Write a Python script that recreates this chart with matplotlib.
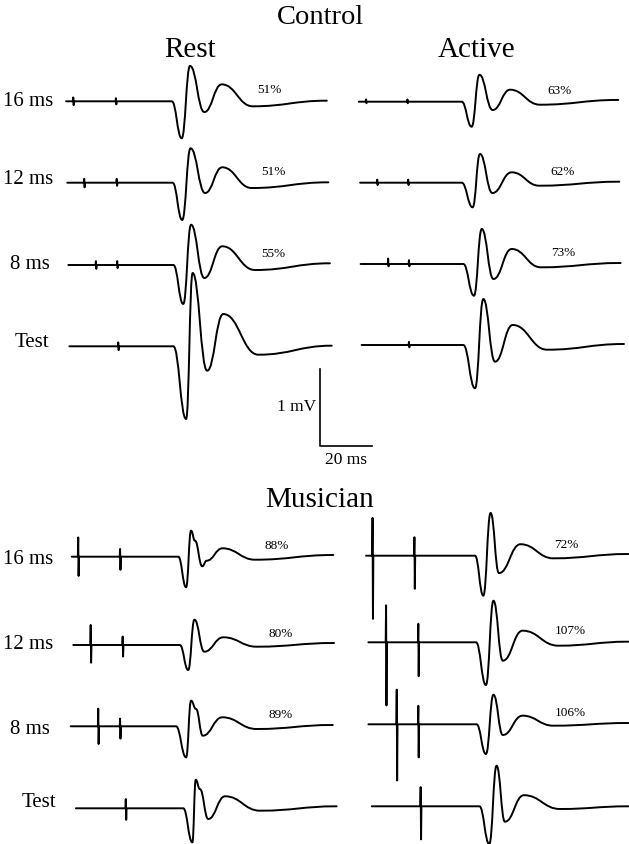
import matplotlib
matplotlib.use('Agg')
from matplotlib import pyplot as plt
from matplotlib.path import Path
from matplotlib.patches import PathPatch

plt.rcParams['font.family'] = ['Liberation Serif', 'DejaVu Serif']

# scale of the recordings: 20 ms = 52 px, 1 mV = 77 px
PX_MS = 2.6
PX_MV = 77.0
W, H = 629, 845

rows = ['16 ms', '12 ms', '8 ms', 'Test']

# key points of each trace: time (ms) and amplitude (mV)
# stimulus artefacts: [time, up, down]
ctl_rest_t = [[0.0, 40.7, 44.5, 47.7, 53.2, 59.9, 71.8, 100.3],
              [0.5, 41.0, 44.7, 47.9, 53.5, 60.1, 71.4, 100.9],
              [0.9, 41.3, 45.1, 48.1, 53.2, 60.1, 72.7, 101.5],
              [1.3, 41.3, 46.2, 48.7, 54.3, 60.5, 74.0, 102.2]]
ctl_rest_v = [[0, 0, -0.48, 0.46, -0.14, 0.22, -0.065, 0.008],
              [0, 0, -0.484, 0.447, -0.134, 0.20, -0.069, 0.005],
              [0, 0, -0.506, 0.523, -0.169, 0.243, -0.065, 0.022],
              [0, 0, -0.944, 0.952, -0.317, 0.419, -0.109, 0.008]]
ctl_rest_art = [[[2.8, 0.05, 0.05], [19.2, 0.04, 0.04]],
                [[7.0, 0.05, 0.06], [19.5, 0.05, 0.04]],
                [[11.5, 0.05, 0.05], [19.7, 0.05, 0.04]],
                [[20.1, 0.05, 0.05]]]
ctl_rest_pct = ['51%', '51%', '55%', '']

ctl_act_t = [[0.3, 39.9, 43.7, 46.7, 51.8, 58.5, 70.0, 100.1],
             [0.8, 39.9, 44.1, 46.9, 51.7, 59.1, 69.7, 100.5],
             [1.0, 40.5, 44.6, 47.6, 52.1, 59.1, 70.3, 101.0],
             [1.4, 40.5, 45.0, 48.2, 52.7, 59.5, 72.7, 102.3]]
ctl_act_v = [[0, 0, -0.325, 0.35, -0.108, 0.156, -0.039, 0.023],
             [0, 0, -0.32, 0.373, -0.134, 0.135, -0.039, 0.013],
             [0, 0, -0.412, 0.455, -0.195, 0.195, -0.043, 0.013],
             [0, 0, -0.562, 0.597, -0.217, 0.26, -0.061, 0.013]]
ctl_act_art = [[[3.1, 0.03, 0.02], [19.0, 0.03, 0.02]],
               [[7.4, 0.04, 0.03], [19.3, 0.04, 0.03]],
               [[11.6, 0.07, 0.03], [19.6, 0.05, 0.03]],
               [[19.6, 0.04, 0.03]]]
ctl_act_pct = ['63%', '62%', '73%', '']

mus_rest_t = [[2.2, 43.2, 46.2, 48.1, 49.6, 52.4, 54.1, 60.2, 72.7, 102.8],
              [2.8, 43.8, 47.0, 49.4, 53.2, 60.5, 73.3, 103.1],
              [1.8, 42.3, 46.2, 48.1, 50.0, 52.6, 60.1, 73.3, 102.6],
              [3.8, 45.1, 48.6, 49.9, 51.5, 54.7, 61.2, 74.6, 104.1]]
mus_rest_v = [[0, 0, -0.397, 0.338, 0.208, -0.125, -0.052, 0.109, -0.039, 0.022],
              [0, 0, -0.325, 0.329, -0.087, 0.10, -0.022, 0.026],
              [0, 0, -0.403, 0.333, 0.225, -0.122, 0.117, -0.035, 0.017],
              [0, 0, -0.442, 0.371, 0.25, -0.139, 0.156, -0.031, 0.026]]
mus_rest_art = [[[4.7, 0.25, 0.25], [20.8, 0.10, 0.17]],
                [[9.5, 0.26, 0.23], [21.8, 0.11, 0.15]],
                [[12.4, 0.23, 0.23], [20.8, 0.10, 0.16]],
                [[23.0, 0.12, 0.15]]]
mus_rest_pct = ['88%', '80%', '89%', '']

mus_act_t = [[3.1, 45.0, 48.2, 51.0, 54.2, 62.5, 75.1, 104.0],
             [4.0, 45.4, 49.2, 52.1, 55.7, 63.3, 77.0, 104.0],
             [4.0, 45.6, 49.2, 52.1, 55.7, 63.3, 75.1, 104.0],
             [5.3, 46.7, 50.5, 53.3, 56.5, 63.8, 77.7, 104.0]]
mus_act_v = [[0, 0, -0.519, 0.555, -0.226, 0.149, -0.034, 0.022],
             [0, 0, -0.555, 0.54, -0.239, 0.151, -0.044, 0.008],
             [0, 0, -0.386, 0.384, -0.139, 0.112, -0.018, 0.017],
             [0, 0, -0.49, 0.527, -0.20, 0.144, -0.035, 0.0]]
mus_act_art = [[[5.6, 0.49, 0.82], [21.7, 0.24, 0.43]],
               [[10.8, 0.48, 0.82], [23.2, 0.24, 0.44]],
               [[14.9, 0.45, 0.73], [23.2, 0.24, 0.43]],
               [[24.1, 0.25, 0.43]]]
mus_act_pct = ['72%', '107%', '106%', '']


def X(px):
    return px / PX_MS


def Y(py):
    return -py / PX_MV


def trace_points(t, v, art):
    # baseline start, artefacts, then the MEP key points
    pts = [(t[0], v[0])]
    for ta, up, down in art:
        pts += [(ta - 0.15, 0), (ta, up), (ta + 0.15, -down), (ta + 0.3, 0)]
    pts += list(zip(t[1:], v[1:]))
    return pts


def draw_trace(ax, x0, y0, t, v, art, k=0.45):
    pts = [(x0 + a, y0 + b) for a, b in trace_points(t, v, art)]
    verts = [pts[0]]
    codes = [Path.MOVETO]
    for (xa, ya), (xb, yb) in zip(pts[:-1], pts[1:]):
        d = xb - xa
        verts += [(xa + k * d, ya), (xb - k * d, yb), (xb, yb)]
        codes += [Path.CURVE4] * 3
    ax.add_patch(PathPatch(Path(verts, codes), fill=False, lw=1.4,
                           edgecolor='black', capstyle='round', joinstyle='round'))


fig = plt.figure(figsize=(W / 100, H / 100), dpi=100)
ax = fig.add_axes([0, 0, 1, 1])
ax.set_xlim(0, X(W))
ax.set_ylim(Y(H), 0)
ax.axis('off')

# layout (pixels): column time origins, row baselines, label places
panels = [
    (ctl_rest_t, ctl_rest_v, ctl_rest_art, ctl_rest_pct, 66, [102.3, 183.7, 266, 347.3], 203),
    (ctl_act_t, ctl_act_v, ctl_act_art, ctl_act_pct, 358, [102.7, 183.7, 265, 346], 201),
    (mus_rest_t, mus_rest_v, mus_rest_art, mus_rest_pct, 66, [557.7, 646, 727.3, 809.3], 211),
    (mus_act_t, mus_act_v, mus_act_art, mus_act_pct, 358, [556.7, 643.3, 725.3, 807.3], 208),
]
for t_all, v_all, art_all, pct, x0, bases, pct_dx in panels:
    for i in range(4):
        draw_trace(ax, X(x0), Y(bases[i]), t_all[i], v_all[i], art_all[i])
        if pct[i]:
            ax.text(X(x0 + pct_dx + (4 if i else 0)), Y(bases[i] - 12), pct[i],
                    fontsize=9.5, ha='center', va='center')

# row labels
for lbl, lx, ly in zip(rows, [3, 3, 10, 15], [101, 180, 265, 343]):
    ax.text(X(lx), Y(ly), lbl, fontsize=15, ha='left', va='center')
for lbl, lx, ly in zip(rows, [3, 3, 10, 22], [560, 645, 730, 803]):
    ax.text(X(lx), Y(ly), lbl, fontsize=15, ha='left', va='center')

# titles
ax.text(X(320), Y(18), 'Control', fontsize=20.5, ha='center', va='center')
ax.text(X(190), Y(50), 'Rest', fontsize=21, ha='center', va='center')
ax.text(X(477), Y(50), 'Active', fontsize=21, ha='center', va='center')
ax.text(X(320), Y(500), 'Musician', fontsize=21, ha='center', va='center')

# scale bar: 1 mV, 20 ms
cx, cy = X(320), Y(447)
ax.plot([cx, cx, cx + 20], [cy + 1, cy, cy], color='black', lw=1.2)
ax.text(X(316), Y(407), '1 mV', fontsize=12.5, ha='right', va='center')
ax.text(cx + 10, Y(460), '20 ms', fontsize=12.5, ha='center', va='center')

fig.savefig('out.png', dpi=100)
